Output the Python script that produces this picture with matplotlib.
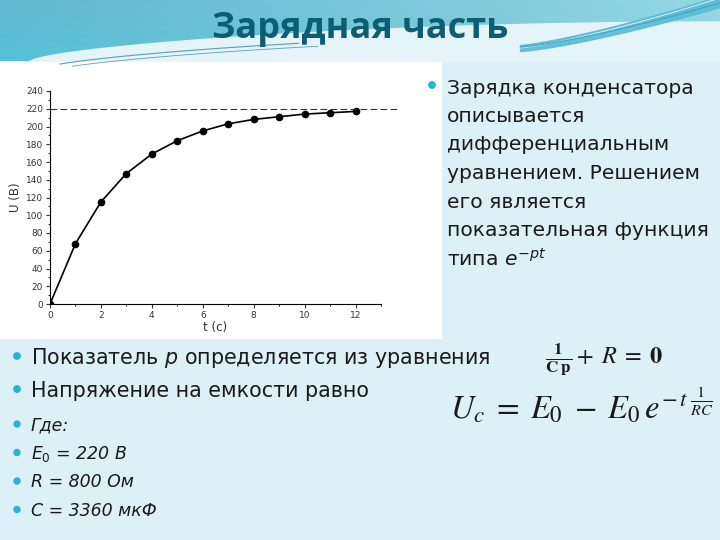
import numpy as np
import matplotlib
matplotlib.use("Agg")
import matplotlib.pyplot as plt
from matplotlib.patches import Rectangle, Circle

plt.rcParams['font.family'] = ['DejaVu Sans']
plt.rcParams['mathtext.fontset'] = 'stix'

# data
t = [0, 1, 2, 3, 4, 5, 6, 7, 8, 9, 10, 11, 12]
u = [0, 68, 115, 147, 169, 184, 195, 203, 208, 211, 214, 215.5, 217]
e0 = 220
x_ticks = [0, 2, 4, 6, 8, 10, 12]
y_ticks = [0, 20, 40, 60, 80, 100, 120, 140, 160, 180, 200, 220, 240]

title = "Зарядная часть"
right_lines = ["Зарядка конденсатора", "описывается", "дифференциальным",
               "уравнением. Решением", "его является",
               "показательная функция", "типа $e^{-pt}$"]
bottom_lines = ["Показатель $p$ определяется из уравнения",
                "Напряжение на емкости равно"]
italic_lines = ["Где:", "$E_0$ = 220 В", "R = 800 Ом", "C = 3360 мкФ"]

fig = plt.figure(figsize=(7.2, 5.4), dpi=100)

# slide background
bg = fig.add_axes([0, 0, 1, 1], zorder=0)
bg.set_xlim(0, 720)
bg.set_ylim(540, 0)
bg.axis('off')
bg.add_patch(Rectangle((0, 0), 720, 540, color='#dcf1f7'))

# header gradient (left darker, right lighter)
c_left = np.array(matplotlib.colors.to_rgb('#62b6d0'))
c_right = np.array(matplotlib.colors.to_rgb('#93d7e3'))
c_low = np.array(matplotlib.colors.to_rgb('#48cde0'))
gx = np.linspace(0, 1, 120)[None, :, None]
gy = np.linspace(0, 1, 40)[:, None, None]
img = (c_left * (1 - gx) + c_right * gx) * (1 - 0.5 * gy * (1 - gx)) \
    + c_low * 0.5 * gy * (1 - gx)
bg.imshow(np.clip(img, 0, 1), extent=[0, 720, 62, 0], aspect='auto', zorder=1)

# white swoosh
xs = np.linspace(0, 720, 300)
top_edge = 62 - 40 * np.sin(np.clip((xs - 30) / 690, 0, 1) * np.pi / 2) ** 0.6
top_edge[xs < 30] = 62
bg.fill_between(xs, top_edge, 62, color='#e4f4f9', zorder=2)
m = xs > 520
s = np.clip((xs[m] - 520) / 200, 0, 1)
band = 48 - 44 * s ** 1.3
bg.fill_between(xs[m], band - 3 - 5 * s, band + 3, color='#5cbad6', alpha=0.9, zorder=3)
bg.plot(xs[m], band - 6 * s, color='#e8f7fa', lw=0.6, zorder=3)
bg.plot(xs[m], band - 1, color='#3aa9c8', lw=0.8, zorder=3)
m2 = (xs > 60) & (xs < 300)
bg.plot(xs[m2], top_edge[m2] + 10, color='#5a9fb0', lw=0.8, zorder=3)
m3 = (xs > 70) & (xs < 320)
bg.plot(xs[m3], top_edge[m3] + 14, color='#5a9fb0', lw=0.6, zorder=3)
bg.text(360, 29, title, fontsize=26, fontweight='bold', color='#0d5d74',
        ha='center', va='center', family=['Open Sans', 'DejaVu Sans'], zorder=4)

# white box behind the chart picture
bg.add_patch(Rectangle((0, 62), 441, 276, color='white', zorder=2))

# right paragraph
bg.add_patch(Circle((432, 85), 3.2, color='#27b3d4', zorder=4))
for i, line in enumerate(right_lines):
    bg.text(447, 88 + i * 28.5, line, fontsize=14.6, color='#1a1a1a',
            ha='left', va='center', math_fontfamily='dejavusans', zorder=4)

# bottom bullets
for i, line in enumerate(bottom_lines):
    y = 358 + i * 33
    bg.add_patch(Circle((17, y - 2), 3.2, color='#27b3d4', zorder=4))
    bg.text(31, y, line, fontsize=14.9, color='#1a1a1a', ha='left', va='center',
            math_fontfamily='dejavusans', zorder=4)
for i, line in enumerate(italic_lines):
    y = 425 + i * 28.5
    bg.add_patch(Circle((17, y - 1), 3.0, color='#27b3d4', zorder=4))
    bg.text(31, y, line, fontsize=12.5, style='italic', color='#1a1a1a',
            ha='left', va='center', math_fontfamily='dejavusans', zorder=4)

# formulas
bg.text(545, 360, r'$\frac{\mathbf{1}}{\mathbf{C\;p}}+\;\mathit{R}\;=\;\mathbf{0}$',
        fontsize=17.5, color='#1a1a1a', ha='left', va='center', zorder=4)
bg.text(450, 405, r'$U_c\;=\;E_0\;-\;E_0\,e^{-\,t\;\frac{1}{RC}}$',
        fontsize=23.5, color='#1a1a1a', ha='left', va='center', zorder=4)

# chart
ax = fig.add_axes([50 / 720, (540 - 304) / 540, 331 / 720, 213 / 540], zorder=5)
ax.patch.set_alpha(0)
ax.plot(t, u, color='black', lw=1.2, marker='o', markersize=4.5)
ax.axhline(e0, xmin=0, xmax=350 / 331, color='#333333', lw=0.8,
           dashes=(6, 3), clip_on=False)
ax.set_xlim(0, 13)
ax.set_ylim(0, 240)
ax.set_xticks(x_ticks)
ax.set_xticks(np.arange(0, 14, 1), minor=True)
ax.set_yticks(y_ticks)
ax.set_yticks(np.arange(0, 241, 10), minor=True)
for sp in ['top', 'right']:
    ax.spines[sp].set_visible(False)
ax.tick_params(direction='out', length=3, width=0.8, labelsize=6.5,
               colors='#333333', pad=2)
ax.tick_params(which='minor', direction='out', length=1.5, width=0.6)
ax.set_xlabel('t (c)', fontsize=8.5, labelpad=1, color='#333333')
ax.set_ylabel('U (B)', fontsize=8.5, labelpad=3, color='#333333')

fig.savefig('out.png', dpi=100)
